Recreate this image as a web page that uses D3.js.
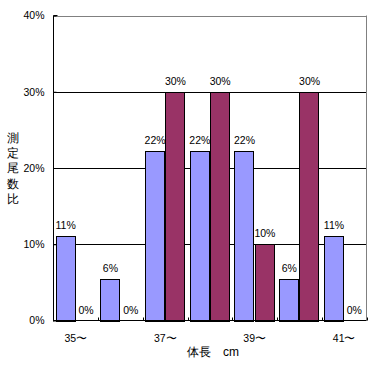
<!DOCTYPE html>
<html><head><meta charset="utf-8">
<script src="https://cdn.jsdelivr.net/npm/d3@7/dist/d3.min.js"></script>
<style>body{margin:0;background:#fff}svg{display:block}text{font-family:"Liberation Sans",Arial,sans-serif;}</style>
</head><body><svg id="c" width="372" height="365"></svg>
<script>
const categories = ["35〜","36〜","37〜","38〜","39〜","40〜","41〜"];
const tickLabels = ["35〜","","37〜","","39〜","","41〜"];
const seriesNames = ["A","B"];
const seriesA = [11.1, 5.5, 22.2, 22.2, 22.2, 5.5, 11.1];
const seriesB = [0, 0, 30, 30, 10, 30, 0];
const labelsA = ["11%","6%","22%","22%","22%","6%","11%"];
const labelsB = ["0%","0%","30%","30%","10%","30%","0%"];
const yTicks = [0,10,20,30,40];
const colors = ["#9999FF","#993366"];

const svg = d3.select("#c");
const L=53.5, R=366.5, T=15.5, B=320.5;
const FS = "10.5px";
const x = d3.scaleBand().domain(categories).range([L,R]).paddingInner(0.09).paddingOuter(0.045);
const xs = d3.scaleBand().domain(seriesNames).range([0,x.bandwidth()]);
const y = d3.scaleLinear().domain([0,40]).range([B,T]);

svg.append("g").selectAll("line").data(yTicks.filter(d=>d>0)).join("line")
  .attr("x1",L).attr("x2",R).attr("y1",d=>Math.round(y(d))+0.5).attr("y2",d=>Math.round(y(d))+0.5)
  .attr("stroke",d=>d===40?"#808080":"#000").attr("stroke-width",1);
svg.append("line").attr("x1",R).attr("x2",R).attr("y1",T).attr("y2",B).attr("stroke","#808080");

const data = [];
categories.forEach((c,i)=>{
  data.push({c, s:"A", v:seriesA[i], l:labelsA[i], col:colors[0]});
  data.push({c, s:"B", v:seriesB[i], l:labelsB[i], col:colors[1]});
});
svg.append("g").selectAll("rect").data(data.filter(d=>d.v>0)).join("rect")
  .attr("x",d=>Math.round(x(d.c)+xs(d.s))+0.5)
  .attr("width",d=>Math.round(xs.bandwidth())-1)
  .attr("y",d=>Math.round(y(d.v))+0.5)
  .attr("height",d=>Math.round(B)-Math.round(y(d.v)))
  .attr("fill",d=>d.col).attr("stroke","#000").attr("stroke-width",1);

svg.append("g").selectAll("text").data(data).join("text")
  .attr("x",d=>x(d.c)+xs(d.s)+xs.bandwidth()/2)
  .attr("y",d=>y(d.v)-7)
  .attr("text-anchor","middle").attr("font-size",FS).attr("fill","#000")
  .text(d=>d.l);

const ya = svg.append("g").attr("transform",`translate(${L},0)`)
  .call(d3.axisLeft(y).tickValues(yTicks).tickFormat(d=>d+"%").tickSize(-3).tickPadding(9));
ya.select(".domain").remove();
ya.selectAll(".tick line").attr("stroke","#000");
ya.selectAll("text").attr("font-size",FS).attr("font-family","Liberation Sans, Arial, sans-serif").attr("fill","#000");
svg.append("line").attr("x1",L).attr("x2",L).attr("y1",T).attr("y2",B+1).attr("stroke","#000");
svg.append("line").attr("x1",L).attr("x2",L+4).attr("y1",T).attr("y2",T).attr("stroke","#000");

const xa = svg.append("g").attr("transform",`translate(0,${B})`)
  .call(d3.axisBottom(x).tickFormat((d,i)=>tickLabels[i]).tickSize(0).tickPadding(14));
xa.select(".domain").remove();
xa.selectAll("text").attr("font-size",FS).attr("font-family","Liberation Sans, Arial, sans-serif").attr("fill","#000");
svg.append("line").attr("x1",L).attr("x2",R).attr("y1",B).attr("y2",B).attr("stroke","#000");
const bounds = categories.map(c=>x(c)-x.step()*x.paddingInner()/2).slice(1).concat([R]);
svg.append("g").selectAll("line").data(bounds).join("line")
  .attr("x1",d=>Math.round(d)+0.5).attr("x2",d=>Math.round(d)+0.5).attr("y1",B).attr("y2",B-3).attr("stroke","#000");

const yt = "測定尾数比".split("");
svg.append("g").selectAll("text").data(yt).join("text")
  .attr("x",13).attr("y",(d,i)=>142+i*15.2).attr("text-anchor","middle")
  .attr("font-size","12px").attr("font-family","Noto Sans CJK JP, sans-serif").text(d=>d);
svg.append("text").attr("x",187).attr("y",356).attr("font-size","12px")
  .attr("font-family","Noto Sans CJK JP, sans-serif").text("体長　cm");
</script></body></html>
